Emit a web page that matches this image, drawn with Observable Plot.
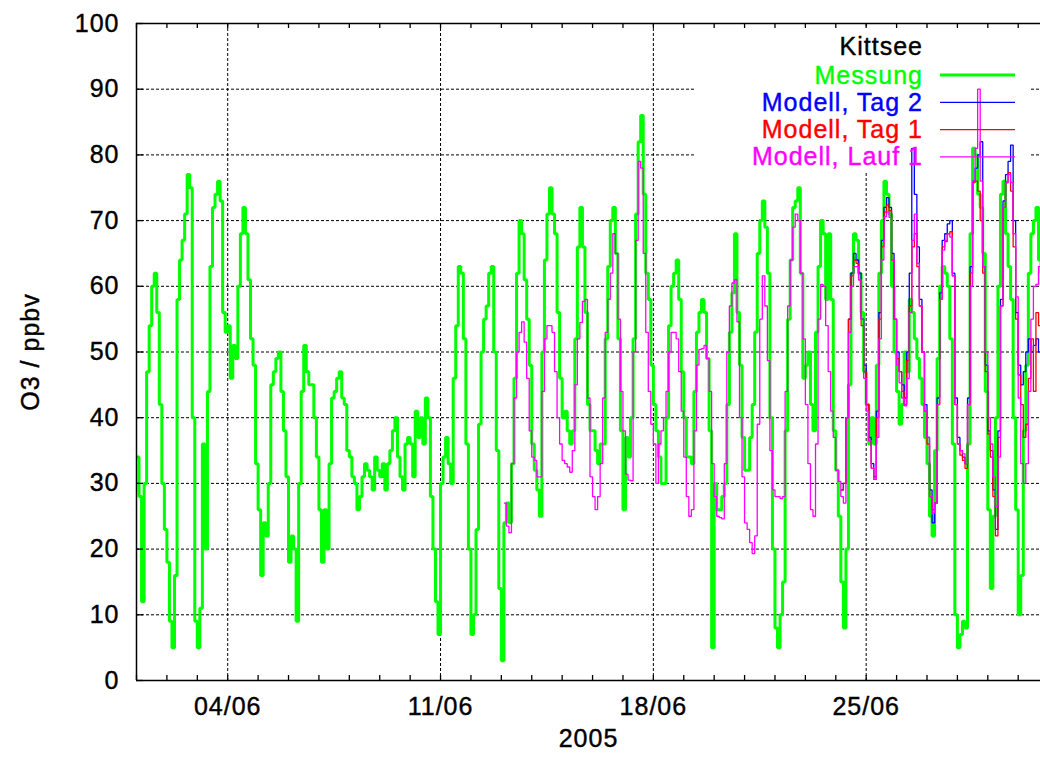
<!DOCTYPE html>
<html><head><meta charset="utf-8">
<script src="https://cdn.jsdelivr.net/npm/d3@7"></script>
<script src="https://cdn.jsdelivr.net/npm/@observablehq/plot@0.6"></script>
<style>html,body{margin:0;padding:0;background:#fff;overflow:hidden}</style>
</head><body><div id="chart"></div><script>
// ---------- data ----------
const legendTitle = "Kittsee";
const seriesNames = ["Messung", "Modell, Tag 2", "Modell, Tag 1", "Modell, Lauf 1"];
const seriesColors = ["#00ff00", "#0000ff", "#ff0000", "#ff00ff"];
const yLabel = "O3 / ppbv";
const xLabel = "2005";
const yTicks = [0, 10, 20, 30, 40, 50, 60, 70, 80, 90, 100];
const xTickDates = ["2005-06-04T00:00:00Z", "2005-06-11T00:00:00Z", "2005-06-18T00:00:00Z", "2005-06-25T00:00:00Z"];
const xTickLabels = ["04/06", "11/06", "18/06", "25/06"];
const xDomain = ["2005-06-01T00:00:00Z", "2005-06-30T17:36:00Z"];
const stepHours = 2;

// Messung, every 2 h from 01/06 00:00
const messungStart = "2005-06-01T00:00:00Z";
const messung = [
  34, 28, 12, 30, 47, 54, 60, 62, 56, 42, 30, 23,   // 01/06
  18, 9, 5, 16, 58, 64, 67, 71, 77, 75, 40, 9,      // 02/06
  5, 11, 36, 20, 44, 63, 72, 74, 76, 73, 56, 53,    // 03/06
  54, 46, 51, 49, 60, 68, 72, 68, 61, 52, 48, 33,   // 04/06
  26, 16, 24, 22, 30, 45, 47, 49, 50, 44, 38, 31,   // 05/06
  18, 22, 20, 9, 30, 44, 51, 47, 45, 45, 40, 34,    // 06/06
  26, 18, 26, 20, 33, 43, 44, 46, 47, 43, 42, 35,   // 07/06
  34, 31, 30, 26, 28, 31, 33, 32, 31, 29, 34, 32,   // 08/06
  31, 33, 29, 33, 35, 38, 40, 34, 31, 29, 36, 37,   // 09/06
  36, 31, 41, 37, 40, 36, 43, 40, 28, 20, 12, 7,    // 10/06
  30, 34, 37, 33, 30, 46, 54, 63, 62, 52, 36, 20,   // 11/06
  7, 10, 23, 39, 50, 55, 57, 62, 63, 50, 35, 14,    // 12/06
  3, 24, 27, 24, 33, 46, 62, 70, 68, 61, 55, 48,    // 13/06
  36, 32, 29, 25, 50, 64, 71, 75, 71, 68, 56, 46,   // 14/06
  40, 41, 38, 36, 38, 52, 66, 72, 66, 56, 42, 38,   // 15/06
  38, 35, 33, 36, 36, 52, 63, 70, 72, 65, 52, 38,   // 16/06
  26, 37, 34, 40, 52, 71, 82, 86, 74, 62, 58, 48,   // 17/06
  42, 38, 34, 30, 30, 40, 54, 60, 62, 64, 58, 47,   // 18/06
  40, 34, 34, 33, 44, 53, 56, 58, 56, 49, 38, 5,    // 19/06
  30, 26, 26, 28, 30, 42, 53, 59, 68, 56, 48, 37,   // 20/06
  32, 32, 37, 42, 53, 65, 70, 73, 69, 62, 40, 20,   // 21/06
  8, 5, 10, 15, 38, 55, 64, 72, 73, 75, 62, 46,     // 22/06
  48, 50, 42, 38, 53, 63, 70, 68, 58, 68, 58, 38,   // 23/06
  32, 25, 15, 8, 20, 45, 62, 68, 67, 62, 56, 47,    // 24/06
  42, 36, 40, 36, 48, 62, 70, 76, 74, 71, 60, 50,   // 25/06
  44, 39, 42, 50, 47, 58, 56, 52, 49, 46, 42, 37,   // 26/06
  33, 25, 22, 35, 49, 60, 63, 62, 60, 52, 36, 10,   // 27/06
  5, 7, 9, 8, 36, 68, 81, 80, 74, 72, 65, 44,       // 28/06
  26, 14, 25, 40, 60, 74, 76, 68, 63, 58, 40, 26,   // 29/06
  10, 16, 38, 48, 62, 68, 70, 72, 64, 62            // 30/06
];

// Modell, Tag 2, every 2 h from 24/06 04:00
const tag2Start = "2005-06-24T04:00:00Z";
const tag2 = [
  29, 30, 40, 55, 62, 65, 64, 62, 55, 48,
  42, 37, 33, 31, 41, 56, 67, 72, 73.5, 72, 65, 55,
  50, 47, 45, 43, 50, 62, 81, 74, 66, 58, 50, 42,
  37, 29, 24, 27, 43, 59, 67, 68, 69.5, 70, 62, 43,
  37, 35, 34, 33, 43, 63, 76, 78, 80, 82, 63, 48,
  38, 35, 29, 23, 38, 58, 73, 77, 79, 81.5, 70, 56,
  48, 45, 47, 50, 52, 50, 51, 52, 50, 55
];

// Modell, Tag 1, every 2 h from 24/06 04:00
const tag1Start = "2005-06-24T04:00:00Z";
const tag1 = [
  29, 30, 40, 55, 61.6, 64, 63.5, 61, 54, 47,
  42, 36.5, 32.3, 30.6, 40, 55, 66, 71.3, 72.4, 71.5, 64, 55,
  49, 47, 44, 42, 48.7, 57, 66, 68, 63, 57, 50, 41,
  36, 28, 26, 27, 42, 58, 66, 66.8, 68, 68.3, 61.6, 42,
  36, 34.3, 33.5, 32.3, 42, 62, 75.8, 76, 74.5, 70, 62, 47,
  37.5, 34, 28, 22, 37, 57, 72, 75.8, 77.3, 74.5, 66, 55,
  46.5, 42, 37, 39, 46, 52, 44, 56, 54, 60
];

// Modell, Lauf 1, every 2 h from 13/06 02:00
const lauf1Start = "2005-06-13T02:00:00Z";
const lauf1 = [
  27, 23.5, 22.5, 33, 43, 50, 53, 54.6, 51.5, 46, 38,        // 13/06
  34, 33.5, 31, 31, 44, 52, 54, 54, 53, 47, 40, 36,          // 14/06
  33.5, 33, 32.5, 31.7, 35, 45, 52, 54.5, 57.7, 58, 43, 31,  // 15/06
  28, 26, 28, 33, 43, 53, 58, 62, 68, 65, 55, 44,            // 16/06
  38, 31.4, 30.5, 30.4, 50, 67, 79, 78, 65, 53, 44, 39,      // 17/06
  36, 30, 36, 38, 40, 44, 50, 53, 53, 52, 47, 41,            // 18/06
  34, 28, 25, 26, 38, 48, 50.4, 50.5, 51, 49, 44, 33,        // 19/06
  28, 25, 24.8, 24.6, 33, 50, 57, 60.5, 61, 54.6, 40, 31,    // 20/06
  24, 23, 21, 19.3, 22, 39, 55, 61.6, 57, 48.7, 35, 29,      // 21/06
  28, 28, 27.7, 28, 44, 57, 64, 69, 71, 70, 62, 52,          // 22/06
  42, 33, 26, 25, 36, 55, 60.3, 60, 54, 47, 41, 37,          // 23/06
  32, 30.3, 28, 27, 40, 53, 60, 63, 63, 61, 55, 46,          // 24/06
  41, 36.5, 32.3, 30.6, 37, 52, 64, 70.6, 71.3, 70.5, 64, 55,// 25/06
  48, 45.3, 43, 41.8, 46, 56, 67, 71, 63.5, 57, 50, 41,      // 26/06
  37, 28, 25.5, 27, 42, 58, 65.5, 67, 68, 67.5, 61.6, 42,    // 27/06
  36, 35, 34.5, 33, 42, 60, 76, 81, 90, 76, 63, 50,          // 28/06
  40, 36, 31, 26.5, 34, 57, 72, 75.8, 77, 75.8, 68, 58.4,    // 29/06
  43, 33, 30, 33, 44, 55, 60, 60.3, 63, 64                   // 30/06
];

// ---------- build ----------
function toRows(startIso, values) {
  const t0 = new Date(startIso).getTime();
  return values.map((v, i) => ({t: new Date(t0 + i * stepHours * 3600e3), v: v}));
}
const seriesRows = [
  toRows(messungStart, messung),
  toRows(tag2Start, tag2),
  toRows(tag1Start, tag1),
  toRows(lauf1Start, lauf1)
];
const seriesWidths = [3, 1.3, 1.3, 1.3];

const W = 1040, H = 758;
const mL = 136, mR = 0, mT = 23, mB = 78;
const frameW = W - mL - mR, frameH = H - mT - mB;

const xd = xDomain.map(d => new Date(d));
const weekTicks = xTickDates.map(d => new Date(d));
const labelByTime = new Map(weekTicks.map((d, i) => [+d, xTickLabels[i]]));
const dayTicks = d3.utcDay.range(xd[0], xd[1]);

const font = "'Liberation Sans', Arial, Helvetica, sans-serif";

const lineMarks = seriesRows.map((rows, i) => Plot.line(rows, {
  x: "t", y: "v", stroke: seriesColors[i], strokeWidth: seriesWidths[i],
  curve: "step-after", strokeLinejoin: "miter", strokeLinecap: "butt"
}));

const plot = Plot.plot({
  width: W, height: H,
  marginLeft: mL, marginRight: mR, marginTop: mT, marginBottom: mB,
  style: {fontFamily: font, fontSize: "25px", letterSpacing: "1px", background: "white", color: "black"},
  x: {type: "utc", domain: xd},
  y: {domain: [0, 100]},
  marks: [
    Plot.gridY(yTicks.slice(1, -1), {stroke: "black", strokeOpacity: 1, strokeWidth: 1, strokeDasharray: "3,2"}),
    Plot.gridX(weekTicks, {stroke: "black", strokeOpacity: 1, strokeWidth: 1, strokeDasharray: "3,2"}),
    ...lineMarks,
    Plot.ruleY([0, 100], {stroke: "black", strokeWidth: 1.5}),
    Plot.ruleX([xd[0]], {stroke: "black", strokeWidth: 1.5}),
    Plot.tickX(dayTicks, {x: d => d, insetTop: frameH - 5, stroke: "black", strokeWidth: 1.3}),
    Plot.tickX(dayTicks, {x: d => d, insetBottom: frameH - 5, stroke: "black", strokeWidth: 1.3}),
    Plot.tickY(yTicks, {y: d => d, insetRight: frameW - 7, stroke: "black", strokeWidth: 1.3}),
    Plot.axisY(yTicks, {tickSize: 0, tickPadding: 17, label: null, fill: "black"}),
    Plot.axisX(weekTicks, {tickSize: 0, tickPadding: 17, label: null, fill: "black", tickFormat: d => labelByTime.get(+d)}),
    Plot.text([yLabel], {frameAnchor: "left", dx: -106, rotate: -90, textAnchor: "middle", fill: "black"}),
    Plot.text([xLabel], {frameAnchor: "bottom", dy: 66, textAnchor: "middle", fill: "black"})
  ]
});
document.getElementById("chart").appendChild(plot);

// ---------- legend (key box like gnuplot) ----------
const svg = d3.select(plot);
// white key background goes under the data lines but over the grid
const firstLine = plot.querySelector('g[aria-label="line"]');
const bg = document.createElementNS("http://www.w3.org/2000/svg", "rect");
bg.setAttribute("x", 694); bg.setAttribute("y", 28);
bg.setAttribute("width", 337); bg.setAttribute("height", 144);
bg.setAttribute("fill", "white");
if (firstLine) firstLine.parentNode.insertBefore(bg, firstLine);
const lg = svg.append("g").attr("font-family", font).attr("font-size", 25).attr("letter-spacing", "1px");
lg.append("text").attr("x", 923).attr("y", 55).attr("text-anchor", "end").attr("fill", "black").text(legendTitle);
seriesNames.forEach((name, i) => {
  const cy = 75 + i * 27.3;
  lg.append("text").attr("x", 923).attr("y", cy + 8.5).attr("text-anchor", "end")
    .attr("fill", seriesColors[i]).text(name);
  lg.append("line").attr("x1", 940).attr("x2", 1015).attr("y1", cy).attr("y2", cy)
    .attr("stroke", seriesColors[i]).attr("stroke-width", seriesWidths[i]);
});
// slightly heavier glyphs, like the bitmap fonts of the original
plot.querySelectorAll("text").forEach(t => {
  const f = getComputedStyle(t).fill;
  t.style.stroke = f;
  t.style.strokeWidth = "0.4px";
});
</script></body></html>
